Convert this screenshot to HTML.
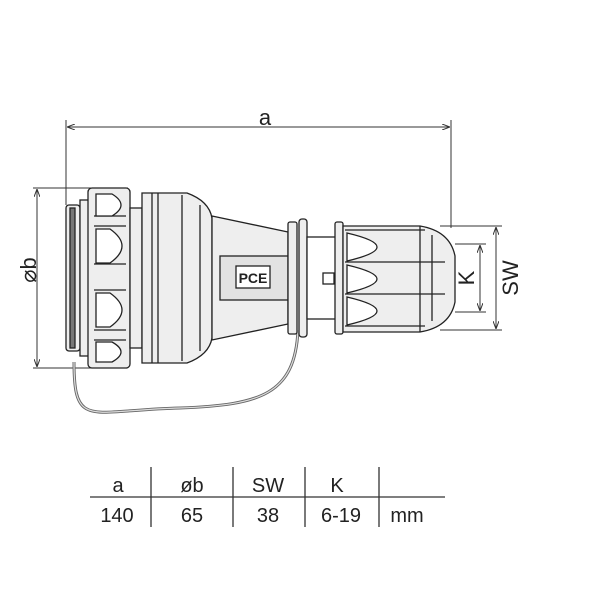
<!DOCTYPE html>
<html><head><style>body{margin:0;background:#fff}svg{display:block}</style></head><body>
<svg width="600" height="600" viewBox="0 0 600 600" xmlns="http://www.w3.org/2000/svg" font-family="Liberation Sans, sans-serif">
<defs><marker id="ar" markerWidth="8" markerHeight="6" refX="8" refY="3" orient="auto-start-reverse"><path d="M0,0 L8,3 L0,6" fill="none" stroke="#333" stroke-width="1"/></marker></defs>
<g stroke="#333" stroke-width="1" fill="none">
<line x1="66" y1="120" x2="66" y2="205"/><line x1="451" y1="120" x2="451" y2="228"/>
<line x1="67" y1="127" x2="450" y2="127" marker-start="url(#ar)" marker-end="url(#ar)"/>
<line x1="33" y1="188" x2="128" y2="188"/><line x1="33" y1="368" x2="95" y2="368"/>
<line x1="37" y1="189" x2="37" y2="367" marker-start="url(#ar)" marker-end="url(#ar)"/>
<line x1="455" y1="244" x2="486" y2="244"/><line x1="455" y1="312" x2="486" y2="312"/>
<line x1="480" y1="245" x2="480" y2="311" marker-start="url(#ar)" marker-end="url(#ar)"/>
<line x1="440" y1="226" x2="502" y2="226"/><line x1="440" y1="330" x2="502" y2="330"/>
<line x1="496" y1="227" x2="496" y2="329" marker-start="url(#ar)" marker-end="url(#ar)"/>
</g>
<g stroke="#222" stroke-width="1.3" fill="#eeeeee">
<path d="M74,362 C74,430 90,410 180,408 C260,405 295,395 298,330" fill="none" stroke="#666" stroke-width="3"/>
<path d="M74,362 C74,430 90,410 180,408 C260,405 295,395 298,330" fill="none" stroke="#ddd" stroke-width="1.2"/>
<rect x="66" y="205" width="14" height="146" rx="3"/>
<rect x="70" y="208" width="5" height="140" fill="#777"/>
<rect x="80" y="200" width="10" height="156"/>
<rect x="88" y="188" width="42" height="180" rx="4"/>
<path d="M94,216 h32 M94,226 h32 M94,264 h32 M94,290 h32 M94,330 h32 M94,340 h32" stroke="#222"/>
<path d="M96,194 h16 q18,11 0,22 h-16 z M96,229 h14 q24,17 0,34 h-14 z M96,293 h14 q24,17 0,34 h-14 z M96,342 h16 q18,10 0,20 h-16 z" fill="#fff"/>
<rect x="130" y="208" width="12" height="140"/>
<path d="M142,193 h45 q22,8 25,25 v120 q-3,17 -25,25 h-45 z"/>
<line x1="152" y1="193" x2="152" y2="363"/><line x1="158" y1="193" x2="158" y2="363"/>
<line x1="182" y1="195" x2="182" y2="361"/><line x1="200" y1="205" x2="200" y2="351"/>
<path d="M212,216 L288,232 V324 L212,340 Z"/>
<rect x="220" y="256" width="68" height="44" fill="#e2e2e2"/>
<rect x="236" y="266" width="34" height="22" fill="#fff"/>
<text x="253" y="283" font-size="14" text-anchor="middle" fill="#222" stroke="none" font-weight="bold">PCE</text>
<rect x="288" y="222" width="9" height="112" rx="2"/>
<rect x="299" y="219" width="8" height="118" rx="3"/>
<rect x="307" y="237" width="30" height="82" fill="#fff"/>
<rect x="323" y="273" width="11" height="11" fill="#fff"/>
<rect x="335" y="222" width="8" height="112" rx="2"/>
<path d="M343,226 h77 q30,5 35,30 v46 q-5,25 -35,30 h-77 z"/>
<path d="M345,230 h80 M345,262 h100 M345,294 h100 M345,326 h80 M420,226 v106 M432,235 v86" fill="none"/>
<path d="M347,233 q60,14 0,28 z M347,265 q60,14 0,28 z M347,297 q60,14 0,28 z" fill="#fff"/>
</g>
<g fill="#222" font-size="22">
<text x="265" y="125" text-anchor="middle">a</text>
<text transform="translate(36,270) rotate(-90)" text-anchor="middle">⌀b</text>
<text transform="translate(474,278) rotate(-90)" text-anchor="middle">K</text>
<text transform="translate(518,278) rotate(-90)" text-anchor="middle">SW</text>
</g>
<g stroke="#333" stroke-width="1.3">
<line x1="90" y1="497" x2="445" y2="497"/>
<line x1="151" y1="467" x2="151" y2="527"/><line x1="233" y1="467" x2="233" y2="527"/>
<line x1="305" y1="467" x2="305" y2="527"/><line x1="379" y1="467" x2="379" y2="527"/>
</g>
<g fill="#222" font-size="20" text-anchor="middle">
<text x="118" y="492">a</text><text x="192" y="492">øb</text><text x="268" y="492">SW</text><text x="337" y="492">K</text>
<text x="117" y="522">140</text><text x="192" y="522">65</text><text x="268" y="522">38</text><text x="341" y="522">6-19</text><text x="407" y="522">mm</text>
</g>
</svg>
</body></html>
